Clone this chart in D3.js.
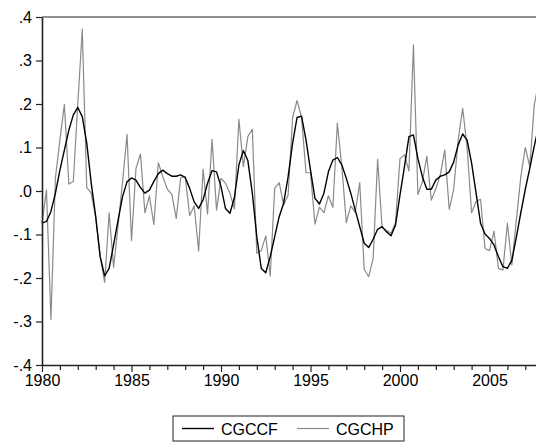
<!DOCTYPE html>
<html><head><meta charset="utf-8">
<script src="https://cdn.jsdelivr.net/npm/d3@7/dist/d3.min.js"></script>
<style>
html,body{margin:0;padding:0;background:#fff;}
svg{display:block;}
text{font-family:"Liberation Sans",Arial,Helvetica,sans-serif;fill:#000;}
</style>
</head><body>
<svg id="chart" width="536" height="443"></svg>
<script>
// ---- data (quarterly, starting 1980Q1) ----
const startYear = 1980;
const seriesNames = ["CGCCF", "CGCHP"];
const cgccf = [
 -0.074,-0.070,-0.047,-0.005, 0.048, 0.094, 0.140, 0.175, 0.192, 0.171,
  0.110, 0.018,-0.059,-0.151,-0.195,-0.178,-0.124,-0.067,-0.013, 0.021,
  0.030, 0.025, 0.008,-0.005, 0.002, 0.022, 0.040, 0.048, 0.040, 0.034,
  0.034, 0.037, 0.031, 0.006,-0.025,-0.040,-0.020, 0.018, 0.047, 0.044,
  0.010,-0.040,-0.051,-0.015, 0.060, 0.093, 0.070,-0.005,-0.105,-0.178,
 -0.188,-0.151,-0.105,-0.059,-0.028, 0.033, 0.110, 0.169, 0.172, 0.117,
  0.048,-0.017,-0.030,-0.005, 0.044, 0.071, 0.077, 0.060, 0.029,-0.005,
 -0.044,-0.082,-0.120,-0.130,-0.111,-0.088,-0.082,-0.094,-0.103,-0.078,
 -0.009, 0.056, 0.125, 0.129, 0.075, 0.033, 0.004, 0.004, 0.025, 0.034,
  0.037, 0.044, 0.067, 0.106, 0.131, 0.117, 0.064,-0.005,-0.074,-0.099,
 -0.109,-0.124,-0.151,-0.174,-0.178,-0.159,-0.106,-0.050, 0.004, 0.052,
  0.103, 0.150
];
const cgchp = [
 -0.075, 0.002,-0.295, 0.030, 0.117, 0.199, 0.016, 0.022, 0.200, 0.372,
  0.008,-0.005,-0.060,-0.150,-0.210,-0.050,-0.175,-0.080, 0.020, 0.130,
 -0.114, 0.052, 0.085,-0.050,-0.011,-0.077, 0.065, 0.033, 0.004,-0.007,
 -0.063, 0.031, 0.033,-0.057,-0.034,-0.138, 0.050,-0.053, 0.119,-0.044,
  0.029, 0.018,-0.005,-0.041, 0.165, 0.056, 0.125, 0.142,-0.143,-0.137,
 -0.103,-0.195, 0.006, 0.019,-0.032,-0.009, 0.169, 0.208, 0.169, 0.042,
  0.042,-0.076,-0.037,-0.050,-0.011,-0.038, 0.156, 0.056,-0.073,-0.034,
 -0.049, 0.019,-0.180,-0.197,-0.155, 0.073,-0.084,-0.091,-0.097,-0.073,
  0.075, 0.083, 0.046, 0.336,-0.008, 0.021, 0.080,-0.021, 0.005, 0.037,
  0.094,-0.042, 0.004, 0.117, 0.190, 0.100,-0.050,-0.024,-0.019,-0.132,
 -0.137,-0.092,-0.178,-0.182,-0.074,-0.170,-0.067, 0.033, 0.100, 0.056,
  0.198, 0.250
];
const yTickValues = [0.4, 0.3, 0.2, 0.1, 0.0, -0.1, -0.2, -0.3, -0.4];
const yTickLabels = [".4", ".3", ".2", ".1", ".0", "-.1", "-.2", "-.3", "-.4"];
const xMajorYears = [1980, 1985, 1990, 1995, 2000, 2005];
const xMajorLabels = ["1980", "1985", "1990", "1995", "2000", "2005"];
const xMinorYears = [1981,1982,1983,1984,1986,1987,1988,1989,1991,1992,1993,1994,
                     1996,1997,1998,1999,2001,2002,2003,2004,2006,2007];
const seriesColors = ["#000000", "#8a8a8a"];

(function () {
// ---- layout ----
const svg = d3.select("#chart");
const pLeft = 42, pTop = 17, pBottom = 365;
const pxPerYear = 17.9;
const endYear = startYear + (cgccf.length - 1) / 4;
const x = d3.scaleLinear().domain([startYear, endYear])
  .range([pLeft, pLeft + (endYear - startYear) * pxPerYear]);
const y = d3.scaleLinear().domain([-0.4, 0.4]).range([pBottom, pTop]);
const pRight = x(endYear);

// frame (top / right thin)
svg.append("path")
  .attr("d", `M${pLeft},${pTop}H${pRight}V${pBottom}`)
  .attr("fill", "none").attr("stroke", "#222").attr("stroke-width", 1);

// lines
const line = d3.line().x((d, i) => x(startYear + i / 4)).y(d => y(d));
[cgchp, cgccf].forEach((s, k) => {
  const color = k === 0 ? seriesColors[1] : seriesColors[0];
  svg.append("path").datum(s).attr("d", line)
    .attr("fill", "none").attr("stroke", color)
    .attr("stroke-width", k === 0 ? 1.2 : 1.4)
    .attr("stroke-linejoin", "round");
});

// y axis
const yAxis = d3.axisLeft(y).tickValues(yTickValues)
  .tickFormat((d, i) => yTickLabels[i]).tickSizeInner(6).tickSizeOuter(0).tickPadding(4);
const gy = svg.append("g").attr("transform", `translate(${pLeft},0)`).call(yAxis);
gy.select(".domain").attr("stroke", "#222").attr("stroke-width", 1.6);
gy.selectAll(".tick line").attr("stroke", "#222").attr("stroke-width", 1.2);
gy.selectAll("text").attr("font-size", 16).attr("fill", "#000")
  .attr("font-family", '"Liberation Sans",Arial,sans-serif');

// x axis
const xAxis = d3.axisBottom(x).tickValues(xMajorYears)
  .tickFormat((d, i) => xMajorLabels[i]).tickSizeInner(7).tickSizeOuter(0).tickPadding(3);
const gx = svg.append("g").attr("transform", `translate(0,${pBottom})`).call(xAxis);
gx.select(".domain").attr("stroke", "#222").attr("stroke-width", 1.6);
gx.selectAll(".tick line").attr("stroke", "#222").attr("stroke-width", 1.2);
gx.selectAll("text").attr("font-size", 16).attr("fill", "#000")
  .attr("font-family", '"Liberation Sans",Arial,sans-serif');
const xMinor = d3.axisBottom(x).tickValues(xMinorYears).tickFormat("").tickSizeInner(5).tickSizeOuter(0);
const gxm = svg.append("g").attr("transform", `translate(0,${pBottom})`).call(xMinor);
gxm.select(".domain").remove();
gxm.selectAll(".tick line").attr("stroke", "#222").attr("stroke-width", 1.2);

// legend
const lg = svg.append("g");
const lgX = 173, lgY = 416, lgW = 231, lgH = 25;
lg.append("rect").attr("x", lgX).attr("y", lgY).attr("width", lgW).attr("height", lgH)
  .attr("fill", "#fff").attr("stroke", "#222").attr("stroke-width", 1);
const items = [
  {name: seriesNames[0], color: seriesColors[0], x0: 182, w: 1.4},
  {name: seriesNames[1], color: seriesColors[1], x0: 297, w: 1.2}
];
items.forEach(it => {
  lg.append("line").attr("x1", it.x0).attr("x2", it.x0 + 32)
    .attr("y1", lgY + lgH / 2).attr("y2", lgY + lgH / 2)
    .attr("stroke", it.color).attr("stroke-width", it.w);
  lg.append("text").attr("x", it.x0 + 39).attr("y", lgY + lgH / 2 + 6)
    .attr("font-size", 16).text(it.name);
});
})();
</script>
</body></html>
